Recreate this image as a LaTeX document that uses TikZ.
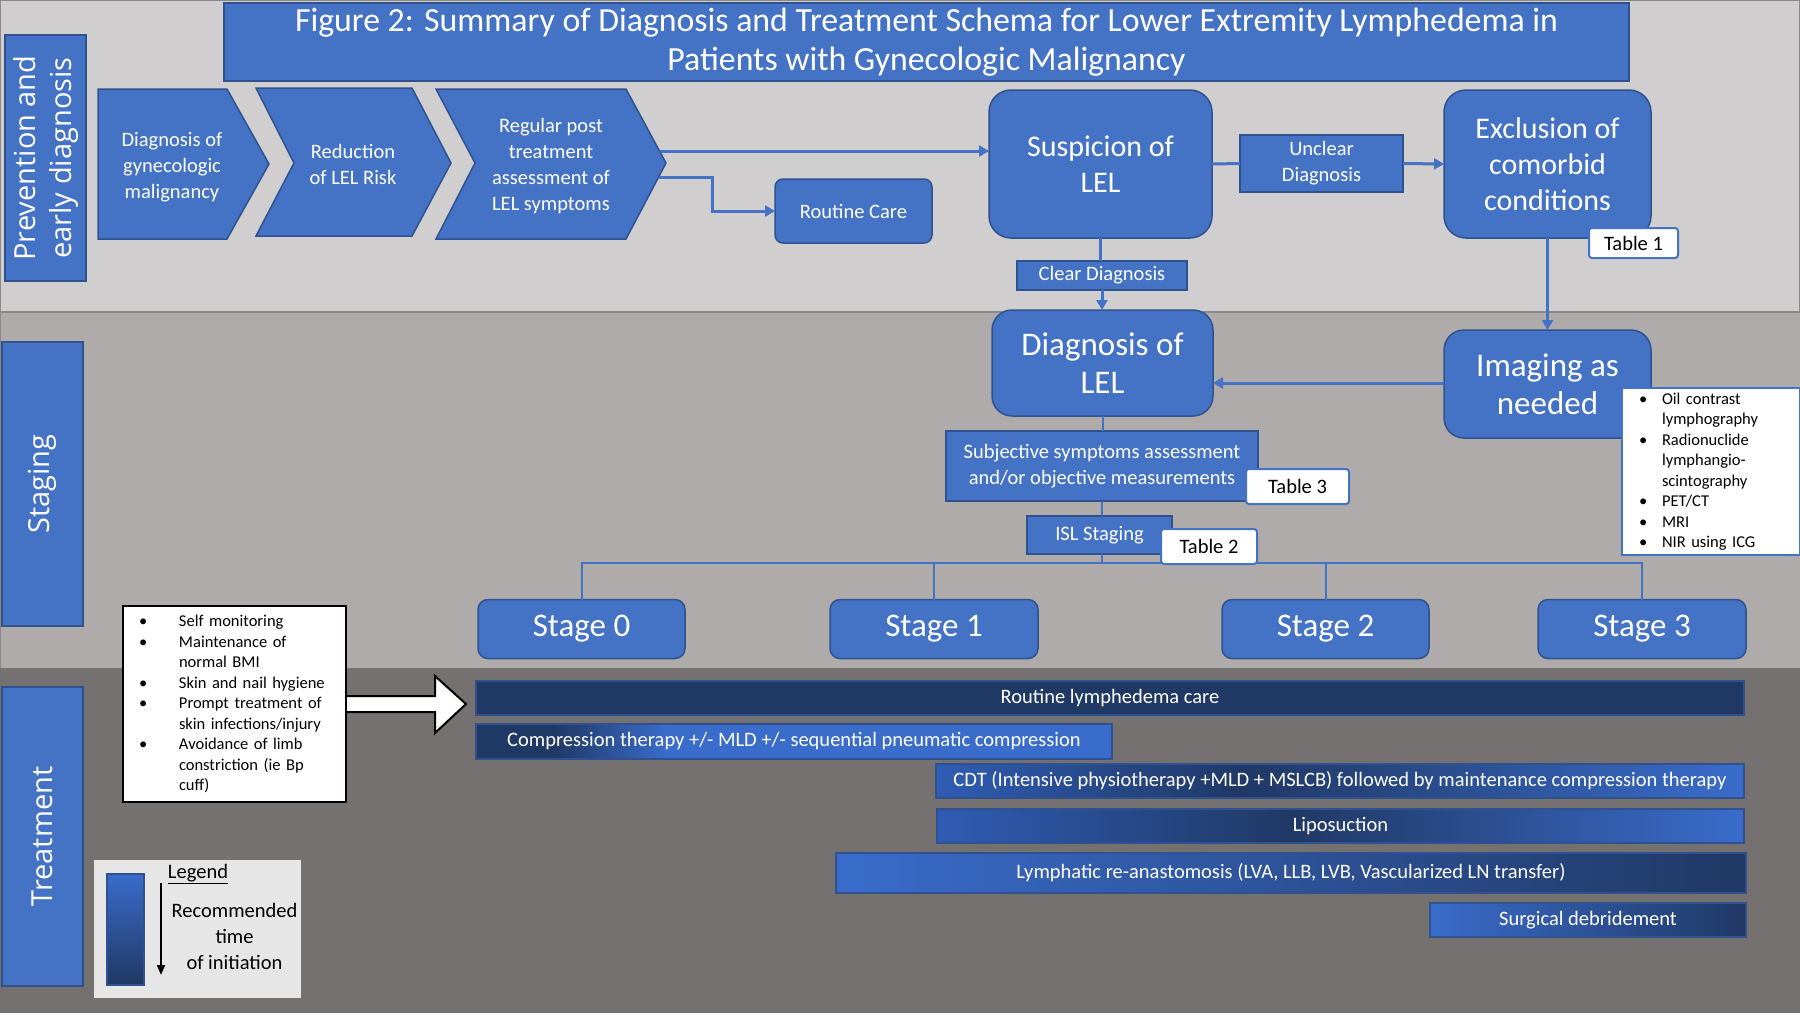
\documentclass[tikz,border=0pt]{standalone}
\usepackage{fontspec}
\setmainfont{Carlito}
\newfontfamily\sidefont{Open Sans}
\usetikzlibrary{arrows.meta,positioning}

\definecolor{bandtop}{HTML}{D0CECE}
\definecolor{bandmid}{HTML}{AFABAB}
\definecolor{bandlow}{HTML}{767171}
\definecolor{bandedge}{HTML}{8C8888}
\definecolor{boxblue}{HTML}{4472C4}
\definecolor{boxline}{HTML}{2F528F}
\definecolor{navy}{HTML}{203864}
\definecolor{barlight}{HTML}{3A6CCB}
\definecolor{barmid}{HTML}{2F5CB4}
\definecolor{legendbg}{HTML}{E7E6E6}

\newcommand\txtS{\fontsize{20.5}{26}\selectfont}
\newcommand\txtM{\fontsize{30}{36}\selectfont}
\newcommand\txtL{\fontsize{33}{38}\selectfont}
\newcommand\txtList{\fontsize{16.5}{20.5}\selectfont}
\newcommand\bulP{\makebox[40pt][l]{\textbullet}}
\newcommand\bulI{\makebox[23pt][l]{\textbullet}}

\pgfdeclarehorizontalshading{compshade}{100bp}{color(0bp)=(navy); color(25bp)=(navy); color(31bp)=(navy); color(40bp)=(barlight); color(100bp)=(barlight)}
\pgfdeclarehorizontalshading{cdtshade}{100bp}{color(0bp)=(barmid); color(25bp)=(barmid); color(44bp)=(navy); color(75bp)=(barlight); color(100bp)=(barlight)}
\pgfdeclarehorizontalshading{liposhade}{100bp}{color(0bp)=(barmid); color(25bp)=(barmid); color(47bp)=(navy); color(75bp)=(barlight); color(100bp)=(barlight)}

\begin{document}
\begin{tikzpicture}[x=1pt,y=-1pt,
	flow/.style={draw=boxline, line width=1.5pt, fill=boxblue, text=white, align=center, inner sep=0pt, outer sep=0pt},
	roundbox/.style={flow, rounded corners=22pt},
	smallbox/.style={flow, rounded corners=8pt},
	tablebox/.style={draw=boxblue, line width=2pt, fill=white, text=black, rounded corners=3pt, inner sep=0pt, outer sep=0pt, font=\txtS},
	sidebox/.style={flow, rotate=90, font=\sidefont\fontsize{29}{36}\selectfont},
	bar/.style={draw=boxline, line width=1.5pt, text=white, inner sep=0pt, outer sep=0pt, font=\txtS},
	conn/.style={draw=boxblue, line width=3pt, -{Triangle[length=10pt,width=11pt]}},
	link/.style={draw=boxblue, line width=3pt},
	bus/.style={draw=boxblue, line width=2pt}]
	\useasboundingbox (0,0) rectangle (1800,1013);

	% bands
	\filldraw[fill=bandtop, draw=bandedge, line width=1.5pt] (0,0) rectangle (1800,312);
	\filldraw[fill=bandmid, draw=bandedge, line width=1pt] (0,312) rectangle (1800,668);
	\fill[bandlow] (0,668) rectangle (1800,1013);

	% title
	\node[flow, line width=2pt, minimum width=1405pt, minimum height=78pt, font=\fontsize{33.8}{39}\selectfont] (title) at (926.5,42)
		{Figure 2: Summary of Diagnosis and Treatment Schema for Lower Extremity Lymphedema in\\Patients with Gynecologic Malignancy};

	% side labels
	\node[sidebox, minimum width=246pt, minimum height=81pt] (prevlabel) at (45.5,158) {Prevention and\\early diagnosis};
	\node[sidebox, minimum width=284pt, minimum height=81pt] (staglabel) at (42.5,484) {Staging};
	\node[sidebox, minimum width=299pt, minimum height=81pt] (treatlabel) at (42.5,836.5) {Treatment};

	% chevrons
	\filldraw[fill=boxblue, draw=boxline, line width=1.5pt] (98,89) -- (227,89) -- (269,164) -- (227,239) -- (98,239) -- cycle;
	\node[text=white, align=center, font=\txtS] (chevdx) at (172,167) {Diagnosis of\\gynecologic\\malignancy};
	\filldraw[fill=boxblue, draw=boxline, line width=1.5pt] (256,88) -- (412,88) -- (451,163) -- (412,236) -- (256,236) -- (294,163) -- cycle;
	\node[text=white, align=center, font=\txtS] (chevrisk) at (353,164) {Reduction\\of LEL Risk};
	\filldraw[fill=boxblue, draw=boxline, line width=1.5pt] (436,89) -- (626,89) -- (666,163) -- (626,239) -- (436,239) -- (475,163) -- cycle;
	\node[text=white, align=center, font=\txtS] (chevasmt) at (551,166) {Regular post\\treatment\\assessment of\\LEL symptoms};
	\coordinate (asmtA) at (660,151);
	\coordinate (asmtB) at (659,177);

	% diagnosis boxes
	\node[smallbox, minimum width=157pt, minimum height=64pt, font=\txtS] (routine) at (853.5,211) {Routine Care};
	\node[roundbox, minimum width=223pt, minimum height=148pt, font=\txtM] (susp) at (1100.5,164) {Suspicion of\\LEL};
	\node[flow, minimum width=163pt, minimum height=57pt, font=\txtS] (unclear) at (1321.5,163.5) {Unclear\\Diagnosis};
	\node[roundbox, minimum width=207pt, minimum height=148pt, font=\txtM] (excl) at (1547.5,164) {Exclusion of\\comorbid\\conditions};
	\node[tablebox, minimum width=89pt, minimum height=30pt] (tab1) at (1633.5,243) {Table 1};
	\node[flow, minimum width=170pt, minimum height=29pt, font=\txtS] (clear) at (1102,275.5) {Clear Diagnosis};
	\node[roundbox, rounded corners=20pt, minimum width=221pt, minimum height=106pt, font=\txtL] (dxlel) at (1102.5,363) {Diagnosis of\\LEL};
	\node[roundbox, rounded corners=20pt, minimum width=207pt, minimum height=108pt, font=\txtL] (imaging) at (1547.5,384) {Imaging as\\needed};
	\node[draw=boxblue, line width=2pt, fill=white, text=black, inner xsep=17pt, inner ysep=0pt, outer sep=0pt, text width=144pt, minimum height=167pt, align=left, font=\txtList] (imglist) at (1711,471.5)
		{\bulI Oil contrast\\\hspace*{23pt}lymphography\\\bulI Radionuclide\\\hspace*{23pt}lymphangio-\\\hspace*{23pt}scintography\\\bulI PET/CT\\\bulI MRI\\\bulI NIR using ICG};

	% connectors, top band
	\draw[conn] (asmtA) -- (asmtA -| susp.west);
	\draw[conn] (asmtB) -- ++(53,0) |- (routine.west);
	\draw[link] (susp.east) -- (unclear.west);
	\draw[conn] (unclear.east) -- (excl.west);
	\draw[link] (susp.south) -- (susp.south |- clear.north);
	\draw[conn] (clear.south) -- (clear.south |- dxlel.north);
	\draw[conn] (excl.south) -- (imaging.north);
	\draw[conn] (imaging.west |- 0,383) -- (dxlel.east |- 0,383);

	% staging
	\node[flow, minimum width=312pt, minimum height=70pt, font=\txtS] (subj) at (1102,466) {Subjective symptoms assessment\\and/or objective measurements};
	\node[flow, minimum width=145pt, minimum height=38pt, font=\txtS] (isl) at (1099.5,535) {ISL Staging};
	\draw[bus] (dxlel.south) -- (dxlel.south |- subj.north);
	\draw[bus] (subj.south) -- (subj.south |- isl.north);

	\node[roundbox, rounded corners=10pt, minimum width=207pt, minimum height=59pt, font=\txtL] (st0) at (581.5,629) {Stage 0};
	\node[roundbox, rounded corners=10pt, minimum width=208pt, minimum height=59pt, font=\txtL] (st1) at (934,629) {Stage 1};
	\node[roundbox, rounded corners=10pt, minimum width=207pt, minimum height=59pt, font=\txtL] (st2) at (1325.5,629) {Stage 2};
	\node[roundbox, rounded corners=10pt, minimum width=208pt, minimum height=59pt, font=\txtL] (st3) at (1642,629) {Stage 3};
	\coordinate (busc) at (1102,563);
	\draw[bus] (st0.north) |- (busc) -| (st3.north);
	\draw[bus] (isl.south -| busc) -- (busc);
	\draw[bus] (st1.north) -- (st1.north |- busc);
	\draw[bus] (st2.north) -- (st2.north |- busc);

	\node[tablebox, minimum width=103pt, minimum height=35pt] (tab3) at (1297.5,486.5) {Table 3};
	\node[tablebox, minimum width=96pt, minimum height=35pt] (tab2) at (1209,546.5) {Table 2};

	% prevention list and arrow
	\draw[line width=2pt, fill=white] (330,696) -- (435,696) -- (435,676) -- (466,704) -- (435,733) -- (435,712) -- (330,712) -- cycle;
	\node[draw=black, line width=2pt, fill=white, text=black, inner xsep=16pt, inner ysep=0pt, outer sep=0pt, text width=191pt, minimum height=196pt, align=left, font=\txtList] (prevlist) at (234.5,704)
		{\bulP Self monitoring\\\bulP Maintenance of\\\hspace*{40pt}normal BMI\\\bulP Skin and nail hygiene\\\bulP Prompt treatment of\\\hspace*{40pt}skin infections/injury\\\bulP Avoidance of limb\\\hspace*{40pt}constriction (ie Bp\\\hspace*{40pt}cuff)};

	% treatment bars
	\node[bar, fill=navy, minimum width=1268pt, minimum height=34pt] (care) at (1110,698) {Routine lymphedema care};
	\node[bar, shade, shading=compshade, minimum width=636pt, minimum height=35pt] (compr) at (794,741.5) {Compression therapy +/- MLD +/- sequential pneumatic compression};
	\node[bar, shade, shading=cdtshade, minimum width=808pt, minimum height=34pt] (cdt) at (1340,781) {CDT (Intensive physiotherapy +MLD + MSLCB) followed by maintenance compression therapy};
	\node[bar, shade, shading=liposhade, minimum width=807pt, minimum height=34pt] (lipo) at (1340.5,826) {Liposuction};
	\node[bar, left color=barlight, right color=navy, minimum width=910pt, minimum height=40pt] (lva) at (1291,873) {Lymphatic re-anastomosis (LVA, LLB, LVB, Vascularized LN transfer)};
	\node[bar, left color=barlight, right color=navy, minimum width=316pt, minimum height=34pt] (debr) at (1588,920) {Surgical debridement};

	% legend
	\node[fill=legendbg, minimum width=207pt, minimum height=138pt, inner sep=0pt] (legend) at (197.5,929) {};
	\node[draw=boxline, line width=1.5pt, top color=barlight, bottom color=navy, minimum width=37pt, minimum height=111pt, inner sep=0pt] (legbar) at (125.5,929.5) {};
	\coordinate (legA) at (161,883);
	\coordinate (legB) at (161,975);
	\draw[line width=2pt, -{Triangle[length=10pt,width=8pt]}] (legA) -- (legB);
	\node[font=\txtS, text=black] (legtitle) at (198,874) {\underline{Legend}};
	\node[font=\txtS, text=black, align=center] (legtext) at (234.5,936) {Recommended\\time\\of initiation};

\end{tikzpicture}
\end{document}
